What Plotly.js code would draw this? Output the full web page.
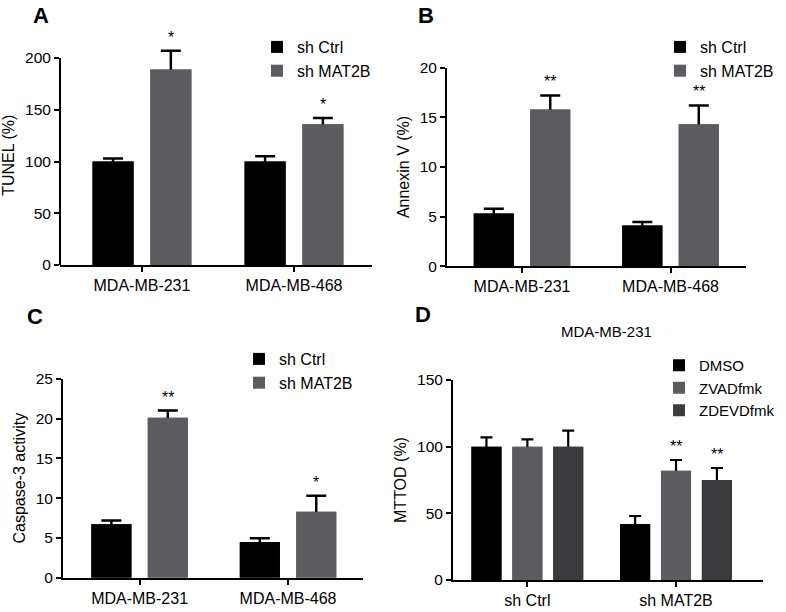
<!DOCTYPE html>
<html><head><meta charset="utf-8">
<script src="https://cdn.plot.ly/plotly-3.0.1.min.js"></script>
<style>html,body{margin:0;padding:0;background:#fff}#chart{width:786px;height:612px}</style>
</head><body><div id="chart"></div>
<script>
// ---- data ----
const cellLines = ['MDA-MB-231', 'MDA-MB-468'];
const seriesNames = ['sh Ctrl', 'sh MAT2B'];

const tunelCtrl = [100, 100];
const tunelCtrlErr = [3, 5];
const tunelMat2b = [189, 136];
const tunelMat2bErr = [18, 6];
const tunelSig = ['*', '*'];

const annexinCtrl = [5.3, 4.1];
const annexinCtrlErr = [0.5, 0.35];
const annexinMat2b = [15.8, 14.3];
const annexinMat2bErr = [1.4, 1.9];
const annexinSig = ['**', '**'];

const caspCtrl = [6.7, 4.5];
const caspCtrlErr = [0.5, 0.45];
const caspMat2b = [20.1, 8.3];
const caspMat2bErr = [0.9, 2.0];
const caspSig = ['**', '*'];

const shGroups = ['sh Ctrl', 'sh MAT2B'];
const treatNames = ['DMSO', 'ZVADfmk', 'ZDEVDfmk'];
const mttDmso = [100, 42];
const mttDmsoErr = [7, 6];
const mttZvad = [100, 82];
const mttZvadErr = [5.5, 8];
const mttZdevd = [100, 75];
const mttZdevdErr = [12, 9];
const mttZvadSig = ['', '**'];
const mttZdevdSig = ['', '**'];

const yTitles = ['TUNEL (%)', 'Annexin V (%)', 'Caspase-3 activity', 'MTTOD (%)'];
const yAxisTop = [200, 20, 25, 150];
const panelLetters = ['A', 'B', 'C', 'D'];
const panelDTitle = 'MDA-MB-231';

// ---- styles ----
const FONT = 'Liberation Sans, Arial, Helvetica, sans-serif';
const BLACK = '#000000';
const GRAY = '#5c5c60';
const DARK = '#3b3b3d';
// panel A gets some headroom above its axis top so the tallest error bar is not cut
const rangeTop = [212, 20, 25, 150];

const traces = [];
const annotations = [];
const shapes = [];

function addBar(name, x, y, err, color, xa, ya, offset, width, legend, capw, thick) {
  traces.push({
    type: 'bar', name: name, x: x, y: y, xaxis: xa, yaxis: ya, cliponaxis: false,
    offset: offset, width: width, marker: { color: color, line: { width: 0 } },
    legend: legend, showlegend: true, hoverinfo: 'skip',
    error_y: { type: 'data', array: err, visible: true, color: '#000', thickness: thick, width: capw }
  });
  // cover so the error bar shows only upward
  traces.push({
    type: 'bar', name: name, x: x, y: y, xaxis: xa, yaxis: ya, cliponaxis: false,
    offset: offset, width: width, marker: { color: color, line: { width: 0 } },
    showlegend: false, hoverinfo: 'skip'
  });
}
function addSig(sig, y, err, offset, width, xa, yaDomainRef, ymax) {
  sig.forEach(function (s, i) {
    if (!s) return;
    annotations.push({
      x: i + offset + width / 2, y: (y[i] + err[i]) / ymax, xref: xa, yref: yaDomainRef,
      text: s, showarrow: false, yanchor: 'bottom', yshift: 3,
      font: { family: FONT, size: 16, color: '#000' }
    });
  });
}

const W2 = 0.27, O1 = -0.325, O2 = 0.055;
// A
addBar(seriesNames[0], cellLines, tunelCtrl, tunelCtrlErr, BLACK, 'x', 'y', O1, W2, 'legend', 10, 2.5);
addBar(seriesNames[1], cellLines, tunelMat2b, tunelMat2bErr, GRAY, 'x', 'y', O2, W2, 'legend', 10, 2.5);
addSig(tunelSig, tunelMat2b, tunelMat2bErr, O2, W2, 'x', 'y domain', rangeTop[0]);
// B
addBar(seriesNames[0], cellLines, annexinCtrl, annexinCtrlErr, BLACK, 'x2', 'y2', O1, W2, 'legend2', 10, 2.5);
addBar(seriesNames[1], cellLines, annexinMat2b, annexinMat2bErr, GRAY, 'x2', 'y2', O2, W2, 'legend2', 10, 2.5);
addSig(annexinSig, annexinMat2b, annexinMat2bErr, O2, W2, 'x2', 'y2 domain', rangeTop[1]);
// C
addBar(seriesNames[0], cellLines, caspCtrl, caspCtrlErr, BLACK, 'x3', 'y3', O1, W2, 'legend3', 10, 2.5);
addBar(seriesNames[1], cellLines, caspMat2b, caspMat2bErr, GRAY, 'x3', 'y3', O2, W2, 'legend3', 10, 2.5);
addSig(caspSig, caspMat2b, caspMat2bErr, O2, W2, 'x3', 'y3 domain', rangeTop[2]);
// D
const W3 = 0.202, P1 = -0.376, P2 = -0.101, P3 = 0.174;
addBar(treatNames[0], shGroups, mttDmso, mttDmsoErr, BLACK, 'x4', 'y4', P1, W3, 'legend4', 6, 2.2);
addBar(treatNames[1], shGroups, mttZvad, mttZvadErr, GRAY, 'x4', 'y4', P2, W3, 'legend4', 6, 2.2);
addBar(treatNames[2], shGroups, mttZdevd, mttZdevdErr, DARK, 'x4', 'y4', P3, W3, 'legend4', 6, 2.2);
addSig(mttZvadSig, mttZvad, mttZvadErr, P2, W3, 'x4', 'y4 domain', rangeTop[3]);
addSig(mttZdevdSig, mttZdevd, mttZdevdErr, P3, W3, 'x4', 'y4 domain', rangeTop[3]);

const PW = 786, PH = 612;
const px = v => v / PW;
const py = v => 1 - v / PH;

function xAxis(d0, d1, r0, r1, anchor) {
  return {
    domain: [px(d0), px(d1)], range: [r0, r1], anchor: anchor, type: 'category',
    showline: true, linewidth: 2, linecolor: '#000', ticks: 'outside', ticklen: 5, tickwidth: 2, tickcolor: '#000',
    showgrid: false, zeroline: false, fixedrange: true, automargin: false,
    tickfont: { family: FONT, size: 16, color: '#000' }
  };
}
function yAxis(d0, d1, r1, dtick, anchor, title, showline) {
  return {
    domain: [py(d0), py(d1)], range: [0, r1], dtick: dtick, tick0: 0, anchor: anchor,
    showline: showline, linewidth: 2, linecolor: '#000', ticks: 'outside', ticklen: 5, tickwidth: 2, tickcolor: '#000',
    showgrid: false, zeroline: false, fixedrange: true, automargin: false,
    tickfont: { family: FONT, size: 15.5, color: '#000' },
    title: { text: title, standoff: 6, font: { family: FONT, size: 16, color: '#000' } }
  };
}

// panel A: y-axis line drawn only up to its last tick (the range has headroom above)
shapes.push({
  type: 'line', xref: 'x domain', yref: 'y', x0: 0, x1: 0, y0: 0, y1: yAxisTop[0],
  line: { color: '#000', width: 2 }, layer: 'above'
});

const legendBase = (x, ytop, size) => ({
  x: px(x), y: py(ytop), xanchor: 'left', yanchor: 'top', bgcolor: 'rgba(0,0,0,0)',
  font: { family: FONT, size: size, color: '#000' }, traceorder: 'normal'
});

const letterPos = [[41, 15], [426, 15], [35, 316], [423, 315]];
panelLetters.forEach(function (t, i) {
  annotations.push({
    x: px(letterPos[i][0]), y: py(letterPos[i][1]), xref: 'paper', yref: 'paper',
    text: '<b>' + t + '</b>', showarrow: false, xanchor: 'center', yanchor: 'middle',
    font: { family: FONT, size: 22, color: '#000' }
  });
});
annotations.push({
  x: px(606), y: py(331), xref: 'paper', yref: 'paper', text: panelDTitle, showarrow: false,
  xanchor: 'center', yanchor: 'middle', font: { family: FONT, size: 15, color: '#000' }
});

const pxPerUnitA = (265 - 58) / yAxisTop[0];
const layout = {
  width: PW, height: PH, margin: { l: 0, r: 0, t: 0, b: 0 },
  paper_bgcolor: '#fff', plot_bgcolor: 'rgba(0,0,0,0)',
  barmode: 'overlay', font: { family: FONT, color: '#000' },
  xaxis: xAxis(60, 372, -0.539, 1.513, 'y'),
  yaxis: yAxis(265, 265 - rangeTop[0] * pxPerUnitA, rangeTop[0], 50, 'x', yTitles[0], false),
  xaxis2: xAxis(447, 746, -0.505, 1.508, 'y2'),
  yaxis2: yAxis(266.2, 67.7, rangeTop[1], 5, 'x2', yTitles[1], true),
  xaxis3: xAxis(63, 363, -0.516, 1.505, 'y3'),
  yaxis3: yAxis(577.7, 378.7, rangeTop[2], 5, 'x3', yTitles[2], true),
  xaxis4: xAxis(453, 763, -0.5, 1.585, 'y4'),
  yaxis4: yAxis(580, 380, rangeTop[3], 50, 'x4', yTitles[3], true),
  legend: legendBase(257, 30, 16),
  legend2: legendBase(660, 30, 16),
  legend3: legendBase(239, 342, 16),
  legend4: legendBase(659, 349, 15),
  annotations: annotations,
  shapes: shapes,
  showlegend: true
};

Plotly.newPlot('chart', traces, layout, { displayModeBar: false, staticPlot: true });
</script>
</body></html>
